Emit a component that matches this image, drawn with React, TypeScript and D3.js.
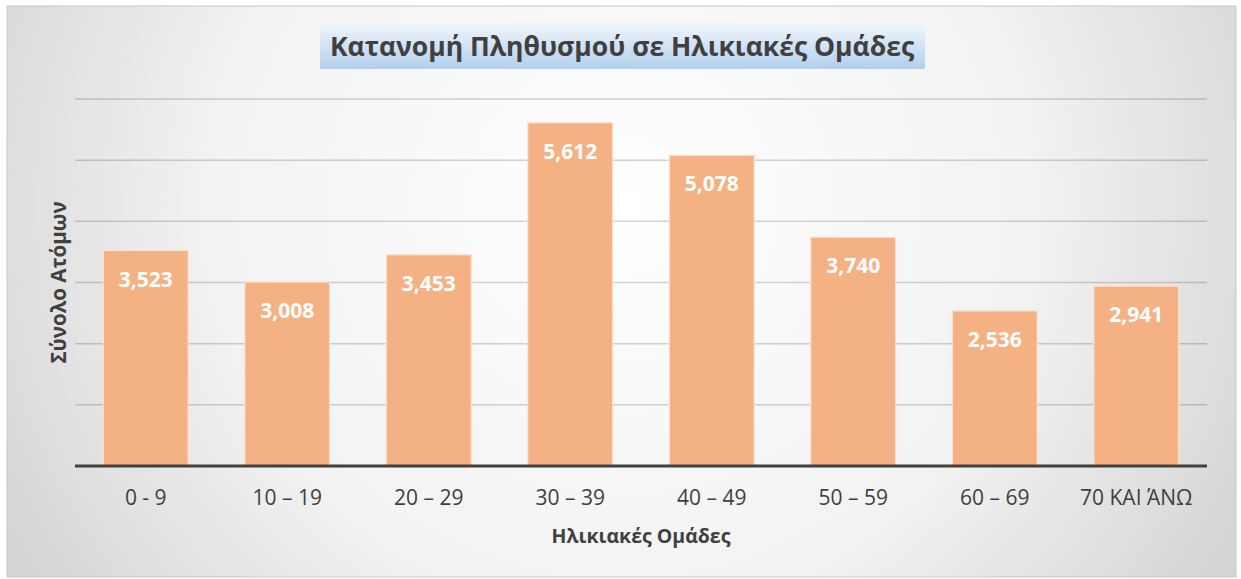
import React from "react";
import * as d3 from "d3";

const categories = ["0 - 9", "10 – 19", "20 – 29", "30 – 39", "40 – 49", "50 – 59", "60 – 69", "70 ΚΑΙ ΆΝΩ"];
const values = [3523, 3008, 3453, 5612, 5078, 3740, 2536, 2941];
const yTicks = [0, 1000, 2000, 3000, 4000, 5000, 6000];
const title = "Κατανομή Πληθυσμού σε Ηλικιακές Ομάδες";
const xTitle = "Ηλικιακές Ομάδες";
const yTitle = "Σύνολο Ατόμων";

export default function App() {
  const W = 1241, H = 579;
  const left = 75, right = 1207, top = 99, bottom = 466;
  const x = d3.scaleBand<string>().domain(categories).range([left, right]).paddingInner(0.4).paddingOuter(0.2);
  const y = d3.scaleLinear().domain([0, 6000]).range([bottom, top]);
  const fmt = d3.format(",");
  const font = "'Open Sans', 'Noto Sans', sans-serif";
  return (
    <svg width={W} height={H} style={{ position: "absolute", left: 0, top: 0 }} fontFamily={font}>
      <defs>
        <radialGradient id="bg" cx="0.5" cy="0.35" r="0.75" gradientUnits="objectBoundingBox" gradientTransform="translate(0.5,0.35) scale(1,2.1) translate(-0.5,-0.35)">
          <stop offset="0" stopColor="#ffffff" />
          <stop offset="0.45" stopColor="#f2f2f2" />
          <stop offset="1" stopColor="#bfbfbf" />
        </radialGradient>
        <linearGradient id="tb" x1="0" y1="0" x2="0" y2="1">
          <stop offset="0" stopColor="#f3f7fc" />
          <stop offset="1" stopColor="#b2cfec" />
        </linearGradient>
      </defs>
      <rect x={0} y={0} width={W} height={H} fill="#ffffff" />
      <rect x={7} y={6} width={1229} height={571} fill="url(#bg)" stroke="#c8c8c8" strokeWidth={1} />
      {yTicks.filter((t) => t > 0).map((t) => (
        <line key={t} x1={left} x2={right} y1={y(t)} y2={y(t)} stroke="rgba(0,0,0,0.17)" strokeWidth={1.5} />
      ))}
      {categories.map((c, i) => (
        <g key={c}>
          <rect x={x(c)!} y={y(values[i])} width={x.bandwidth()} height={bottom - y(values[i])} fill="#F4B183" stroke="#fbe3d2" strokeWidth={1.2} />
          <text x={x(c)! + x.bandwidth() / 2} y={y(values[i]) + 28} textAnchor="middle" dominantBaseline="central" fill="#ffffff" fontWeight="bold" fontSize={21}>
            {fmt(values[i])}
          </text>
          <text x={x(c)! + x.bandwidth() / 2} y={497} textAnchor="middle" dominantBaseline="central" fill="#404040" fontSize={21}>
            {c}
          </text>
        </g>
      ))}
      <line x1={left} x2={right} y1={bottom} y2={bottom} stroke="#404040" strokeWidth={3} />
      <rect x={320} y={22} width={605} height={47} fill="url(#tb)" />
      <text x={622} y={46} textAnchor="middle" dominantBaseline="central" fill="#404040" fontWeight="bold" fontSize={26.5}>
        {title}
      </text>
      <text x={641} y={535} textAnchor="middle" dominantBaseline="central" fill="#404040" fontWeight="bold" fontSize={19.5}>
        {xTitle}
      </text>
      <text transform={`translate(58,${(bottom + top) / 2}) rotate(-90)`} textAnchor="middle" dominantBaseline="central" fill="#404040" fontWeight="bold" fontSize={20.5}>
        {yTitle}
      </text>
    </svg>
  );
}
